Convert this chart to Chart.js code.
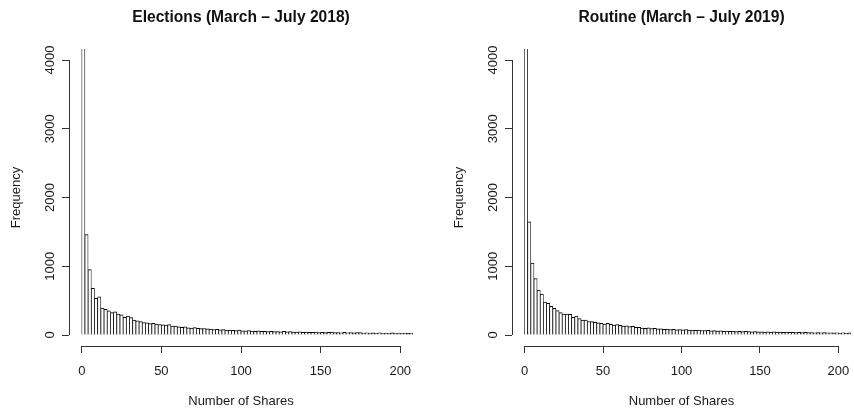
<!DOCTYPE html>
<html><head><meta charset="utf-8">
<script src="https://cdn.jsdelivr.net/npm/chart.js@4/dist/chart.umd.min.js"></script>
<style>
html,body{margin:0;padding:0;background:#fff;overflow:hidden;width:854px;height:412px;position:relative}
.p{position:absolute;top:0;width:427px;height:412px}
#w1{left:0}#w2{left:443px}
</style></head><body>
<div class="p" id="w1"><canvas id="c1" width="427" height="412"></canvas></div>
<div class="p" id="w2"><canvas id="c2" width="427" height="412"></canvas></div>
<script>
const titles = ["Elections (March \u2013 July 2018)", "Routine (March \u2013 July 2019)"];
const xTitle = "Number of Shares";
const yTitle = "Frequency";
const xTicks = [0, 50, 100, 150, 200];
const yTicks = [0, 1000, 2000, 3000, 4000];
const binWidth = 2;
const binStarts = [0,2,4,6,8,10,12,14,16,18,20,22,24,26,28,30,32,34,36,38,40,42,44,46,48,50,52,54,56,58,60,62,64,66,68,70,72,74,76,78,80,82,84,86,88,90,92,94,96,98,100,102,104,106,108,110,112,114,116,118,120,122,124,126,128,130,132,134,136,138,140,142,144,146,148,150,152,154,156,158,160,162,164,166,168,170,172,174,176,178,180,182,184,186,188,190,192,194,196,198,200,202,204,206];
const electionsFreq = [4900,1460,950,680,535,555,390,372,352,325,338,305,295,258,275,252,218,205,195,180,178,165,168,160,150,148,145,150,128,130,120,110,118,105,100,108,98,92,95,88,85,80,82,75,78,70,72,68,65,70,62,60,64,58,55,60,52,55,50,54,48,50,46,52,45,48,44,42,46,40,43,40,38,44,37,40,35,38,42,34,36,33,38,32,35,30,34,36,29,32,28,30,27,33,26,28,25,30,24,27,25,28,23,26];
const routineFreq = [4900,1645,1045,820,655,596,480,460,418,388,354,325,305,305,300,257,276,238,218,218,194,194,184,178,170,160,168,155,145,150,140,128,132,121,125,112,112,102,98,104,94,96,88,90,84,86,80,83,76,78,74,80,72,73,68,71,66,64,68,61,63,58,61,55,58,53,56,51,53,49,52,50,47,51,45,47,44,46,42,45,41,43,39,42,38,40,37,39,35,38,34,36,33,35,32,34,31,33,30,32,29,31,28,30];

Chart.defaults.font.family = "'Liberation Sans', Arial, Helvetica, sans-serif";
const AXIS = '#333';
const TXT = '#1a1a1a';

const rAxis = {
  id: 'rAxis',
  afterDraw(chart) {
    const {ctx, scales: {x, y}, chartArea} = chart;
    ctx.save();
    ctx.strokeStyle = AXIS;
    ctx.lineWidth = 1;
    ctx.beginPath();
    const lx = Math.round(chartArea.left) + 0.5;
    ctx.moveTo(lx, y.getPixelForValue(yTicks[0]));
    ctx.lineTo(lx, y.getPixelForValue(yTicks[yTicks.length - 1]));
    const by = Math.round(chartArea.bottom) + 0.5;
    ctx.moveTo(x.getPixelForValue(xTicks[0]), by);
    ctx.lineTo(x.getPixelForValue(xTicks[xTicks.length - 1]), by);
    ctx.stroke();
    ctx.restore();
  }
};

function makeChart(id, title, values, padRight) {
  const pts = binStarts.map((b, i) => ({x: b + binWidth / 2, y: values[i]}));
  return new Chart(document.getElementById(id), {
    type: 'bar',
    data: {datasets: [{
      data: pts,
      backgroundColor: '#fff',
      borderColor: '#000',
      borderWidth: {top: 1, left: 0.75, right: 0.75, bottom: 0},
      borderSkipped: 'start',
      barPercentage: 1,
      categoryPercentage: 1
    }]},
    options: {
      responsive: false,
      animation: false,
      layout: {padding: {left: 0, right: padRight, top: 0, bottom: 0}},
      plugins: {
        legend: {display: false},
        tooltip: {enabled: false},
        title: {display: true, text: title, fullSize: false, color: '#111',
          font: {size: 15.6, weight: 'bold'}, padding: {top: 8.5, bottom: 21.8}}
      },
      scales: {
        x: {
          type: 'linear', min: -8, max: 208, offset: false,
          afterBuildTicks: s => { s.ticks = xTicks.map(v => ({value: v})); },
          afterFit: s => { s.height = 66; },
          grid: {offset: false, drawOnChartArea: false, drawTicks: true, tickLength: 7, color: AXIS},
          border: {display: false},
          ticks: {font: {size: 13}, color: TXT, padding: 11, maxRotation: 0, autoSkip: false, callback: v => String(v)},
          title: {display: true, text: xTitle, font: {size: 13}, color: TXT, padding: {top: 0, bottom: 3}}
        },
        y: {
          type: 'linear', min: -160, max: 4160,
          afterBuildTicks: s => { s.ticks = yTicks.map(v => ({value: v})); },
          afterFit: s => { s.width = 69; },
          grid: {drawOnChartArea: false, drawTicks: true, tickLength: 7, color: AXIS},
          border: {display: false},
          ticks: {font: {size: 13}, color: TXT, minRotation: 90, maxRotation: 90, crossAlign: 'center', padding: -2.5, autoSkip: false, callback: v => String(v)},
          title: {display: true, text: yTitle, font: {size: 13}, color: TXT, padding: {top: 9, bottom: 0}}
        }
      }
    },
    plugins: [rAxis]
  });
}

makeChart('c1', titles[0], electionsFreq, 14);
makeChart('c2', titles[1], routineFreq, 19);
</script>
</body></html>
